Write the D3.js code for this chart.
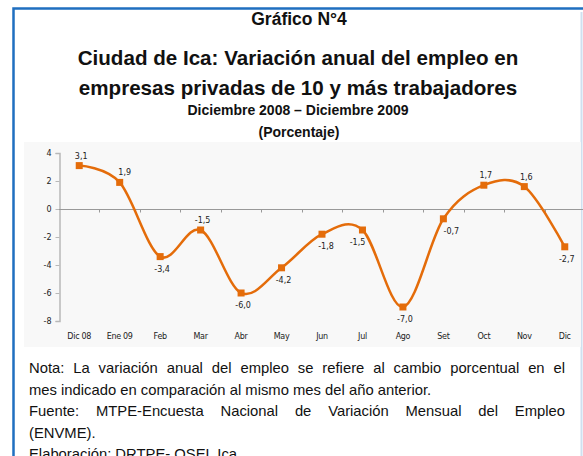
<!DOCTYPE html>
<html>
<head>
<meta charset="utf-8">
<script src="https://cdn.jsdelivr.net/npm/d3@7"></script>
<style>
  body { margin: 0; background: #fff; }
  svg { display: block; font-family: "Liberation Sans", Arial, sans-serif; }
</style>
</head>
<body>
<script>
// data
const months = ["Dic 08","Ene 09","Feb","Mar","Abr","May","Jun","Jul","Ago","Set","Oct","Nov","Dic"];
const values = [3.1, 1.9, -3.4, -1.5, -6.0, -4.2, -1.8, -1.5, -7.0, -0.7, 1.7, 1.6, -2.7];
const labelSide = ["up","up","down","up","down","down","down","down","down","down","up","up","down"];
const yTicks = [4, 2, 0, -2, -4, -6, -8];

const titleLines = [
  "Ciudad de Ica: Variación anual del empleo en",
  "empresas privadas de 10 y más trabajadores"
];
const noteLines = [
  "Nota: La variación anual del empleo se refiere al cambio porcentual en el",
  "mes indicado en comparación al mismo mes del año anterior.",
  "Fuente: MTPE-Encuesta Nacional de Variación Mensual del Empleo",
  "(ENVME).",
  "Elaboración: DRTPE- OSEL Ica."
];
const justified = [true, false, true, false, false];

const W = 583, H = 456;
const orange = "#E46C0A";

const svg = d3.select("body").append("svg")
  .attr("width", W)
  .attr("height", H);

// frame
svg.append("rect")
  .attr("x", 13.5).attr("y", 8.5)
  .attr("width", 580).attr("height", 460)
  .attr("fill", "none")
  .attr("stroke", "#1F6FC0")
  .attr("stroke-width", 2.5);
svg.append("line")
  .attr("x1", 581.5).attr("x2", 581.5)
  .attr("y1", 12).attr("y2", 456)
  .attr("stroke", "#cfe0f0").attr("stroke-width", 2);

// titles
svg.append("text")
  .attr("x", 299).attr("y", 25)
  .attr("text-anchor", "middle")
  .attr("font-size", 17.5).attr("font-weight", "bold")
  .attr("fill", "#111")
  .text("Gráfico N°4");

svg.selectAll(".tline")
  .data(titleLines)
  .enter().append("text")
  .attr("class", "tline")
  .attr("x", 298)
  .attr("y", (d, i) => 65 + i * 29.5)
  .attr("text-anchor", "middle")
  .attr("font-size", 20.6).attr("font-weight", "bold")
  .attr("fill", "#111")
  .text(d => d);

svg.append("text")
  .attr("x", 298).attr("y", 115)
  .attr("text-anchor", "middle")
  .attr("font-size", 14).attr("font-weight", "bold")
  .attr("fill", "#111")
  .text("Diciembre 2008 – Diciembre 2009");
svg.append("text")
  .attr("x", 299).attr("y", 137)
  .attr("text-anchor", "middle")
  .attr("font-size", 14).attr("font-weight", "bold")
  .attr("fill", "#111")
  .text("(Porcentaje)");

// chart area background
svg.append("rect")
  .attr("x", 24).attr("y", 142)
  .attr("width", 557).attr("height", 205)
  .attr("fill", "#f8f8f8");

// scales
const xScale = d3.scaleBand()
  .domain(months)
  .range([59, 585]);
const xMid = d => xScale(d) + xScale.bandwidth() / 2;

const yScale = d3.scaleLinear()
  .domain([-8, 4])
  .range([321, 153]);

// y axis
const yAxis = d3.axisLeft(yScale)
  .tickValues(yTicks)
  .tickSize(4)
  .tickFormat(d3.format("d"));

const gy = svg.append("g")
  .attr("transform", "translate(59.5,0)")
  .call(yAxis);
gy.select(".domain").attr("stroke", "#b8b8b8").attr("stroke-width", 1.5);
gy.selectAll(".tick line").attr("stroke", "#b8b8b8");
gy.selectAll(".tick text")
  .attr("font-size", 8).attr("fill", "#222")
  .attr("x", -8).attr("text-anchor", "end")
  .attr("font-family", "DejaVu Sans, sans-serif")
  .text(d => d3.format("d")(d).replace("−", "-"));

// zero line with tick marks at category boundaries
const zeroY = Math.round(yScale(0)) + 0.5;
svg.append("line")
  .attr("x1", 59).attr("x2", 585)
  .attr("y1", zeroY).attr("y2", zeroY)
  .attr("stroke", "#999").attr("stroke-width", 1);
svg.selectAll(".ztick")
  .data(months.slice(1))
  .enter().append("line")
  .attr("class", "ztick")
  .attr("x1", d => Math.round(xScale(d)) + 0.5)
  .attr("x2", d => Math.round(xScale(d)) + 0.5)
  .attr("y1", zeroY).attr("y2", zeroY + 3)
  .attr("stroke", "#999");

// category labels
svg.selectAll(".cat")
  .data(months)
  .enter().append("text")
  .attr("class", "cat")
  .attr("x", d => xMid(d))
  .attr("y", 339)
  .attr("text-anchor", "middle")
  .attr("font-size", 8)
  .attr("font-family", "DejaVu Sans, sans-serif")
  .attr("letter-spacing", -0.3)
  .attr("fill", "#222")
  .text(d => d);

// line
const line = d3.line()
  .x((d, i) => xMid(months[i]))
  .y(d => yScale(d))
  .curve(d3.curveCardinal.tension(0));

svg.append("path")
  .datum(values)
  .attr("d", line)
  .attr("fill", "none")
  .attr("stroke", orange)
  .attr("stroke-width", 2.5);

svg.selectAll(".pt")
  .data(values)
  .enter().append("rect")
  .attr("class", "pt")
  .attr("x", (d, i) => xMid(months[i]) - 3.5)
  .attr("y", d => yScale(d) - 3.5)
  .attr("width", 7).attr("height", 7)
  .attr("fill", orange);

// value labels
const fmt = v => d3.format(".1f")(v).replace(".", ",").replace("−", "-");
svg.selectAll(".val")
  .data(values)
  .enter().append("text")
  .attr("class", "val")
  .attr("x", (d, i) => xMid(months[i]) + (i === 7 ? -5 : i === 9 ? 8 : i === 1 ? 5 : i === 6 ? 4 : 2))
  .attr("y", (d, i) => yScale(d) + (labelSide[i] === "up" ? -7 : 15))
  .attr("text-anchor", "middle")
  .attr("font-size", 8)
  .attr("font-family", "DejaVu Sans, sans-serif")
  .attr("fill", "#222")
  .text(d => fmt(d));

// notes, justified by word spacing
const noteLeft = 29, noteWidth = 536;
svg.selectAll(".note")
  .data(noteLines)
  .enter().append("text")
  .attr("class", "note")
  .attr("x", noteLeft)
  .attr("y", (d, i) => 373 + i * 21.6)
  .attr("font-size", 14.8)
  .attr("fill", "#111")
  .text(d => d)
  .each(function(d, i) {
    if (!justified[i]) return;
    const natural = this.getComputedTextLength();
    const gaps = d.split(" ").length - 1;
    d3.select(this).attr("word-spacing", (noteWidth - natural) / gaps);
  });
</script>
</body>
</html>
